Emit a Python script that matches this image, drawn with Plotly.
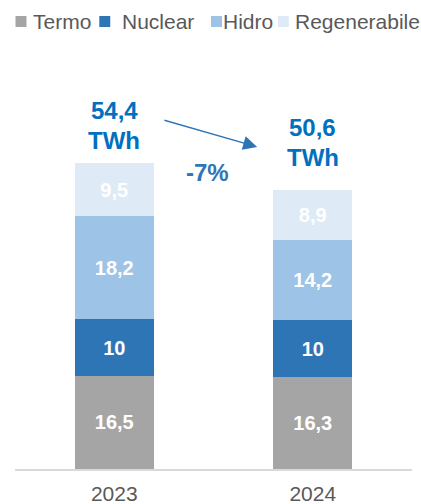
import plotly.graph_objects as go

years = ["2023", "2024"]
series = ["Termo", "Nuclear", "Hidro", "Regenerabile"]
termo = [16.5, 16.3]
nuclear = [10, 10]
hidro = [18.2, 14.2]
regen = [9.5, 8.9]
totals = [54.4, 50.6]
unit = "TWh"

colors = ["#A5A5A5", "#2E75B6", "#9DC3E6", "#DEEBF7"]
FONT = "Arial, Liberation Sans, sans-serif"

W, H = 421, 504
ML, MR, MT, MB = 14.5, 8.5, 60, 35
PW, PH = W - ML - MR, H - MT - MB

def px_x(p):
    return (p - ML) / PW

def px_y(p):
    return (H - MB - p) / PH

def fmt(v):
    s = ("%.1f" % v).rstrip("0").rstrip(".")
    return s.replace(".", ",")

fig = go.Figure()
for name, vals, col in zip(series, [termo, nuclear, hidro, regen], colors):
    fig.add_trace(go.Bar(
        x=list(range(len(years))), y=vals, name=name,
        marker=dict(color=col, line=dict(width=0)),
        text=[fmt(v) for v in vals], textposition="inside", insidetextanchor="middle",
        textfont=dict(color="white", size=20, family=FONT, weight="bold"),
        width=0.4, showlegend=False,
    ))

shifts = [(51, 21), (56, 26)]
for i, t in enumerate(totals):
    s1, s2 = shifts[i]
    tf = dict(color="#0070C0", size=24, family=FONT, weight="bold")
    fig.add_annotation(x=i, y=t, text=fmt(t), showarrow=False,
                       yanchor="middle", yshift=s1, font=tf)
    fig.add_annotation(x=i, y=t, text=unit, showarrow=False,
                       yanchor="middle", yshift=s2, font=tf)

change = round((totals[1] / totals[0] - 1) * 100)
fig.add_annotation(x=0.72, y=57.0, ax=0.245, ay=61.8, xref="x", yref="y",
                   axref="x", ayref="y", showarrow=True, arrowhead=2, arrowsize=2.0,
                   arrowwidth=1.4, arrowcolor="#2E75B6", text="")
fig.add_annotation(x=0.47, y=52.4, text="%d%%" % change, showarrow=False,
                   font=dict(color="#2E75B6", size=24, family=FONT, weight="bold"))

# custom compact legend
sq = [(15, 26), (99, 110), (211, 222), (278, 289)]
tx = [31, 120, 221, 293]
for name, col, (x0, x1), t in zip(series, colors, sq, tx):
    fig.add_shape(type="rect", xref="paper", yref="paper",
                  x0=px_x(x0), x1=px_x(x1), y0=px_y(27), y1=px_y(16),
                  fillcolor=col, line=dict(width=0))
    fig.add_annotation(xref="paper", yref="paper", x=px_x(t), y=px_y(21.5),
                       xanchor="left", yanchor="middle", text=name, showarrow=False,
                       font=dict(size=21, color="#595959", family=FONT))

fig.update_layout(
    barmode="stack",
    width=W, height=H,
    margin=dict(l=ML, r=MR, t=MT, b=MB, autoexpand=False),
    paper_bgcolor="white", plot_bgcolor="white",
    font=dict(family=FONT, color="#595959"),
    showlegend=False,
    xaxis=dict(type="linear", showline=True, linecolor="#D9D9D9", linewidth=1.5,
               ticks="", tickmode="array", tickvals=list(range(len(years))),
               ticktext=years, showgrid=False, zeroline=False, ticklabelstandoff=5,
               automargin=False,
               tickfont=dict(size=21, color="#595959"), range=[-0.5, 1.5]),
    yaxis=dict(visible=False, range=[0, PH / 5.65]),
)
fig.write_html("out.html")
